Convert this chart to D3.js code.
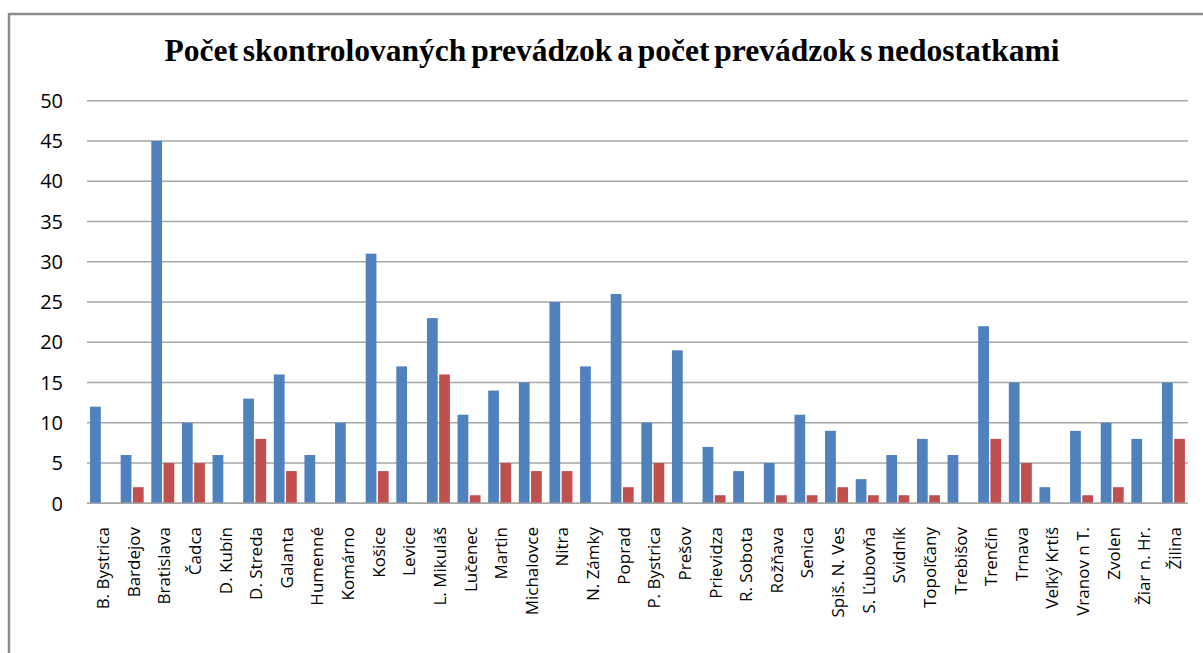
<!DOCTYPE html>
<html><head><meta charset="utf-8">
<script src="https://cdn.jsdelivr.net/npm/d3@7"></script>
<style>body{margin:0;background:#fff;}svg{display:block;}</style>
</head><body>
<script>
const categories = ["B. Bystrica","Bardejov","Bratislava","Čadca","D. Kubín","D. Streda","Galanta","Humenné","Komárno","Košice","Levice","L. Mikuláš","Lučenec","Martin","Michalovce","Nitra","N. Zámky","Poprad","P. Bystrica","Prešov","Prievidza","R. Sobota","Rožňava","Senica","Spiš. N. Ves","S. Ľubovňa","Svidník","Topoľčany","Trebišov","Trenčín","Trnava","Veľký Krtíš","Vranov n T.","Zvolen","Žiar n. Hr.","Žilina"];
const checkedValues = [12,6,45,10,6,13,16,6,10,31,17,23,11,14,15,25,17,26,10,19,7,4,5,11,9,3,6,8,6,22,15,2,9,10,8,15];
const defectValues = [0,2,5,5,0,8,4,0,0,4,0,16,1,5,4,4,0,2,5,0,1,0,1,1,2,1,1,1,0,8,5,0,1,2,0,8];
const yTicks = [0,5,10,15,20,25,30,35,40,45,50];
const seriesNames = ["checked","defects"];
const title = "Počet skontrolovaných prevádzok a počet prevádzok s nedostatkami";

const W = 1203, H = 653;
const svg = d3.select("body").append("svg").attr("width", W).attr("height", H);

// frame
svg.append("line").attr("x1", 9).attr("x2", W).attr("y1", 14).attr("y2", 14).attr("stroke", "#8c8c8c").attr("stroke-width", 2.5);
svg.append("line").attr("x1", 9).attr("x2", 9).attr("y1", 13).attr("y2", H).attr("stroke", "#8c8c8c").attr("stroke-width", 2.5);

svg.append("text").attr("x", 612).attr("y", 61).attr("text-anchor", "middle")
  .attr("font-family", "Liberation Serif, Times New Roman, serif").attr("font-weight", "bold")
  .attr("font-size", 31).attr("word-spacing", -3)
  .attr("textLength", 895).attr("lengthAdjust", "spacingAndGlyphs")
  .attr("fill", "#000").text(title);

const pLeft = 87, pRight = 1188, pTop = 100.7, pBottom = 503.3;
const x = d3.scaleBand().domain(categories).range([pLeft, pRight]).paddingInner(0.25).paddingOuter(0.1);
const xs = d3.scaleBand().domain(seriesNames).range([0, x.bandwidth()]).paddingInner(0.12);
const y = d3.scaleLinear().domain([0, 50]).range([pBottom, pTop]);

// gridlines
svg.append("g").selectAll("line").data(yTicks).join("line")
  .attr("x1", pLeft).attr("x2", pRight).attr("y1", d => y(d)).attr("y2", d => y(d))
  .attr("stroke", "#a6a6a6").attr("stroke-width", 1.5);

// y labels
svg.append("g").selectAll("text").data(yTicks).join("text")
  .attr("x", 63).attr("y", d => y(d)).attr("dy", "0.36em").attr("text-anchor", "end")
  .attr("font-family", "Open Sans, Liberation Sans, sans-serif").attr("font-size", 20).attr("fill", "#000")
  .text(d => d);

const colors = {checked: "#4f81bd", defects: "#c0504d"};
const g = svg.append("g");
g.selectAll("rect.b").data(categories).join("rect").attr("class", "b")
  .attr("x", d => x(d) + xs("checked")).attr("width", xs.bandwidth())
  .attr("y", (d, i) => y(checkedValues[i])).attr("height", (d, i) => y(0) - y(checkedValues[i]))
  .attr("fill", colors.checked);
g.selectAll("rect.r").data(categories).join("rect").attr("class", "r")
  .attr("x", d => x(d) + xs("defects")).attr("width", xs.bandwidth())
  .attr("y", (d, i) => y(defectValues[i])).attr("height", (d, i) => y(0) - y(defectValues[i]))
  .attr("fill", colors.defects);

// x axis line
svg.append("line").attr("x1", pLeft).attr("x2", pRight).attr("y1", pBottom).attr("y2", pBottom)
  .attr("stroke", "#a6a6a6").attr("stroke-width", 1.5);

// x labels
svg.append("g").selectAll("text").data(categories).join("text")
  .attr("transform", d => `translate(${x(d) + x.bandwidth()/2 + 1.5},527) rotate(-90)`)
  .attr("dy", "0.35em").attr("text-anchor", "end")
  .attr("font-family", "Open Sans, Liberation Sans, sans-serif").attr("font-size", 17).attr("fill", "#000")
  .text(d => d);
</script>
</body></html>
